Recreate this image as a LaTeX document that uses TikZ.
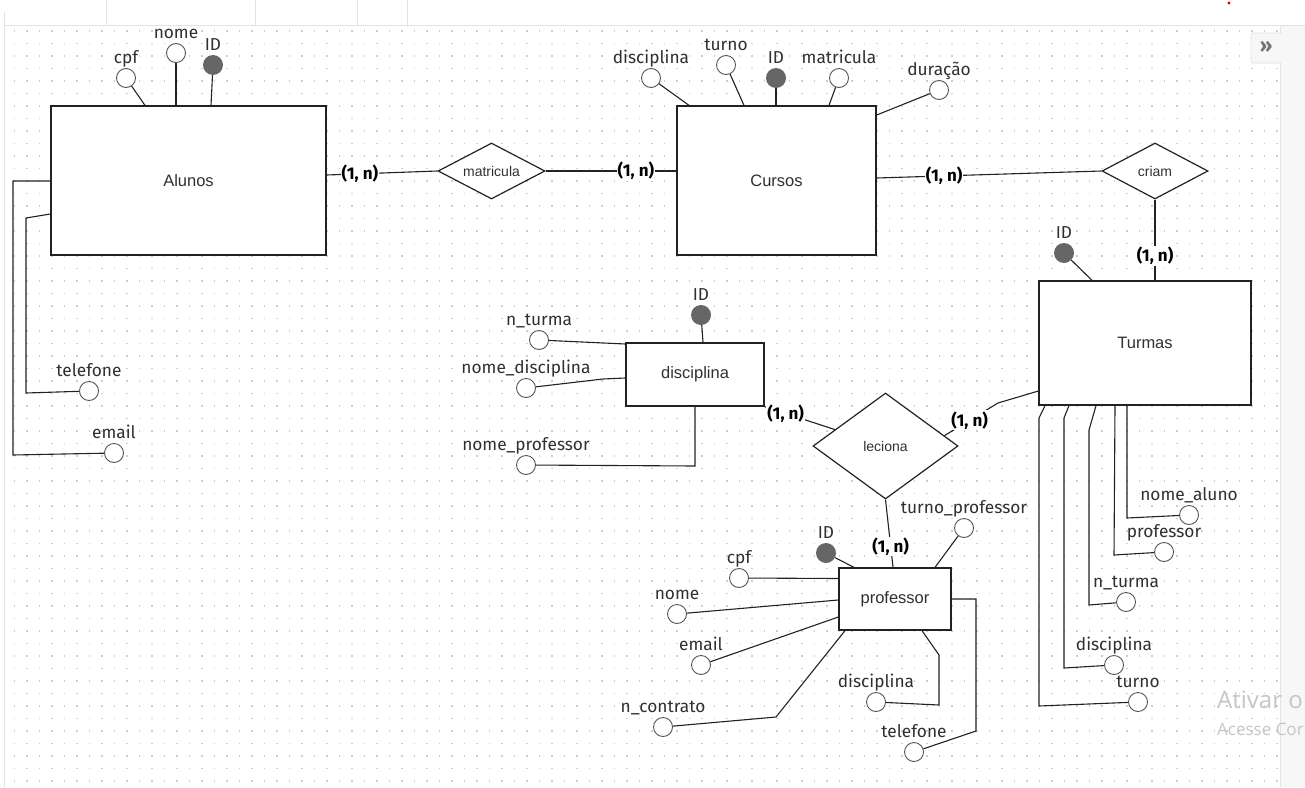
\documentclass[tikz,border=0pt]{standalone}
\usepackage{fontspec}
\setmainfont{Fira Sans}
\newfontfamily\arialf{Liberation Sans}
\newfontfamily\uifont{Open Sans}
\usetikzlibrary{shapes.geometric}

\definecolor{edge}{HTML}{222222}
\definecolor{ring}{HTML}{555555}
\definecolor{keyfill}{HTML}{666666}
\definecolor{dotc}{HTML}{CDCDCD}
\definecolor{chrome}{HTML}{E3E3E3}
\definecolor{panel}{HTML}{F7F7F7}
\definecolor{labelc}{HTML}{303030}
\definecolor{ghost}{HTML}{C6C6C6}

% attribute: ring + caption above it
\newcommand{\att}[4]{%
  \node[attr] (#1) at (#2,#3) {};
  \node[attrlbl] (#1-t) at (#2,#3-14.5) {#4};}
% key attribute: filled disc + caption
\newcommand{\keyatt}[4]{%
  \node[keyattr] (#1) at (#2,#3) {};
  \node[attrlbl] (#1-t) at (#2,#3-14.5) {#4};}

\begin{document}
\begin{tikzpicture}[x=1pt,y=-1pt,
  entity/.style={draw=edge, line width=1.3pt, fill=white, inner sep=0,
    font=\arialf\fontsize{16.5}{18}\selectfont, text=labelc},
  rel/.style={diamond, aspect=2, draw=edge, line width=1.2pt, fill=white, inner sep=0,
    font=\arialf\fontsize{14}{16}\selectfont, text=labelc},
  attr/.style={circle, draw=ring, line width=0.9pt, fill=white, minimum size=19pt, inner sep=0},
  keyattr/.style={circle, fill=keyfill, minimum size=20pt, inner sep=0},
  attrlbl/.style={font=\fontsize{17.3}{19}\selectfont, text=labelc, inner sep=0, anchor=base},
  card/.style={font=\bfseries\fontsize{17}{19}\selectfont, fill=white, inner sep=1pt},
  link/.style={draw=edge, line width=1.1pt},
  notice/.style={text=ghost, anchor=base west, inner sep=0},
]
\useasboundingbox (0,0) rectangle (1305,787);
\begin{scope}
\clip (0,0) rectangle (1305,787);

% canvas and editor chrome
\fill[white] (0,0) rectangle (1305,787);
\fill[panel] (1280,25) rectangle (1305,787);
\draw[chrome, line width=1pt] (1280,25) -- (1280,787);
\draw[chrome, line width=1pt] (4,25) -- (1305,25);
\draw[chrome, line width=1pt] (4,12) -- (4,787);
\foreach \tx in {106.5,255.5,357.5,407.5}
  \draw[chrome, line width=1pt] (\tx,0) -- (\tx,25);
\fill[red!85!black] (1229,3) circle (1.6);

% dotted grid
\foreach \r in {0,...,60}
  \draw[dotc, line width=1.2pt, dash pattern=on 1.2pt off 11.3pt]
    (13.9,31+12.5*\r) -- (1278,31+12.5*\r);

% panel toggle button
\draw[chrome, fill=panel, line width=0.8pt, rounded corners=2pt]
  (1281,33) -- (1251,33) -- (1251,63) -- (1281,63);
\node[font=\bfseries\fontsize{20}{20}\selectfont, text=black!55, inner sep=0] (collapse) at (1266,47) {»};

% ---------------- entities ----------------
\node[entity, minimum width=275pt, minimum height=149pt] (alunos) at (188.5,180.5) {Alunos};
\node[entity, minimum width=199pt, minimum height=149pt] (cursos) at (776.5,180.5) {Cursos};
\node[entity, minimum width=212pt, minimum height=124pt] (turmas) at (1145,343) {Turmas};
\node[entity, minimum width=138pt, minimum height=63pt] (disc) at (695,374.5) {disciplina};
\node[entity, minimum width=112pt, minimum height=62pt] (prof) at (895,599) {professor};

% ---------------- relationships ----------------
\node[rel, minimum width=107pt, minimum height=56pt] (matr) at (491.5,171) {matricula};
\node[rel, minimum width=106pt, minimum height=56pt] (criam) at (1155,171) {criam};
\node[rel, minimum width=145pt, minimum height=106pt] (lec) at (885.5,446) {leciona};

% ---------------- relationship links ----------------
\draw[link] (alunos.east |- 0,175) -- node[card, pos=0.30] (c1) {(1, n)} (matr.west);
\draw[link] (matr.east) -- node[card, pos=0.69] (c2) {(1, n)} (cursos.west |- 0,171);
\draw[link] (cursos.east |- 0,178) -- node[card, pos=0.30] (c3) {(1, n)} (criam.west);
\draw[link] (criam.south) -- node[card, pos=0.70] (c4) {(1, n)} (1155,0 |- turmas.north);
\draw[link] (disc.south east) -- node[card, pos=0.30] (c5) {(1, n)} (lec.162);
\draw[link] (lec.10) -- node[card, pos=0.47] (c6) {(1, n)} (998,403) -- (turmas.west |- 0,391);
\draw[link] (lec.south) -- node[card, pos=0.69] (c7) {(1, n)} (893,0 |- prof.north);

% ---------------- Alunos attributes ----------------
\att{alcpf}{126}{78}{cpf}
\att{alnome}{176}{53}{nome}
\keyatt{alid}{213}{65}{ID}
\att{altel}{89}{391}{telefone}
\att{almail}{114}{453}{email}
\draw[link] (alcpf) -- (145,0 |- alunos.north);
\draw[link] (alnome) -- (176,0 |- alunos.north);
\draw[link] (alid) -- (211,0 |- alunos.north);
\draw[link] (altel) -- (26,393) -- (26,218) -- (alunos.west |- 0,214);
\draw[link] (almail) -- (13,455) -- (13,181) -- (alunos.west |- 0,181);

% ---------------- Cursos attributes ----------------
\att{cudisc}{651}{78}{disciplina}
\att{cuturno}{726}{65}{turno}
\keyatt{cuid}{776}{78}{ID}
\att{cumat}{839}{78}{matricula}
\att{cudur}{939}{90}{duração}
\draw[link] (cudisc) -- (689,0 |- cursos.north);
\draw[link] (cuturno) -- (744,0 |- cursos.north);
\draw[link] (cuid) -- (776,0 |- cursos.north);
\draw[link] (cumat) -- (829,0 |- cursos.north);
\draw[link] (cudur) -- (cursos.east |- 0,115);

% ---------------- Turmas attributes ----------------
\keyatt{tuid}{1064}{253}{ID}
\att{tunome}{1189}{515}{nome\_aluno}
\att{tuprof}{1164}{552}{professor}
\att{tunt}{1126}{602}{n\_turma}
\att{tudisc}{1114}{665}{disciplina}
\att{tuturno}{1138}{702}{turno}
\draw[link] (tuid) -- (1092,0 |- turmas.north);
\draw[link] (tunome) -- (1127,518) -- (1127,0 |- turmas.south);
\draw[link] (tuprof) -- (1114,555) -- (1115,0 |- turmas.south);
\draw[link] (tunt) -- (1089,605) -- (1089,430) -- (1096,0 |- turmas.south);
\draw[link] (tudisc) -- (1064,668) -- (1064,418) -- (1069,0 |- turmas.south);
\draw[link] (tuturno) -- (1039,706) -- (1039,418) -- (1045,0 |- turmas.south);

% ---------------- disciplina attributes ----------------
\keyatt{diid}{701}{315}{ID}
\att{dint}{539}{340}{n\_turma}
\att{dind}{526}{388}{nome\_disciplina}
\att{dinp}{526}{465}{nome\_professor}
\draw[link] (diid) -- (703,0 |- disc.north);
\draw[link] (dint) -- (disc.west |- 0,344);
\draw[link] (dind) -- (603,379) -- (disc.west |- 0,378);
\draw[link] (dinp) -- (695,466) -- (disc.south);

% ---------------- professor attributes ----------------
\keyatt{prid}{826}{553}{ID}
\att{prcpf}{739}{578}{cpf}
\att{prnome}{677}{614}{nome}
\att{prmail}{701}{665}{email}
\att{prnc}{663}{727}{n\_contrato}
\att{prdisc}{876}{702}{disciplina}
\att{prtel}{914}{752}{telefone}
\att{prturno}{964}{528}{turno\_professor}
\draw[link] (prid) -- (854,0 |- prof.north);
\draw[link] (prcpf) -- (prof.west |- 0,578.5);
\draw[link] (prnome) -- (prof.west |- 0,600);
\draw[link] (prmail) -- (prof.west |- 0,617);
\draw[link] (prnc) -- (776,717) -- (845,0 |- prof.south);
\draw[link] (prdisc) -- (939,705) -- (939,655) -- (922,0 |- prof.south);
\draw[link] (prtel) -- (976,731) -- (976,599) -- (prof.east |- 0,599);
\draw[link] (prturno) -- (935,0 |- prof.north);

% system notice over the canvas corner
\node[notice, font=\uifont\fontsize{24}{26}\selectfont] (note1) at (1217,708) {Ativar o};
\node[notice, font=\uifont\fontsize{17}{19}\selectfont] (note2) at (1217,735.5) {Acesse Cor};
\end{scope}
\end{tikzpicture}
\end{document}
